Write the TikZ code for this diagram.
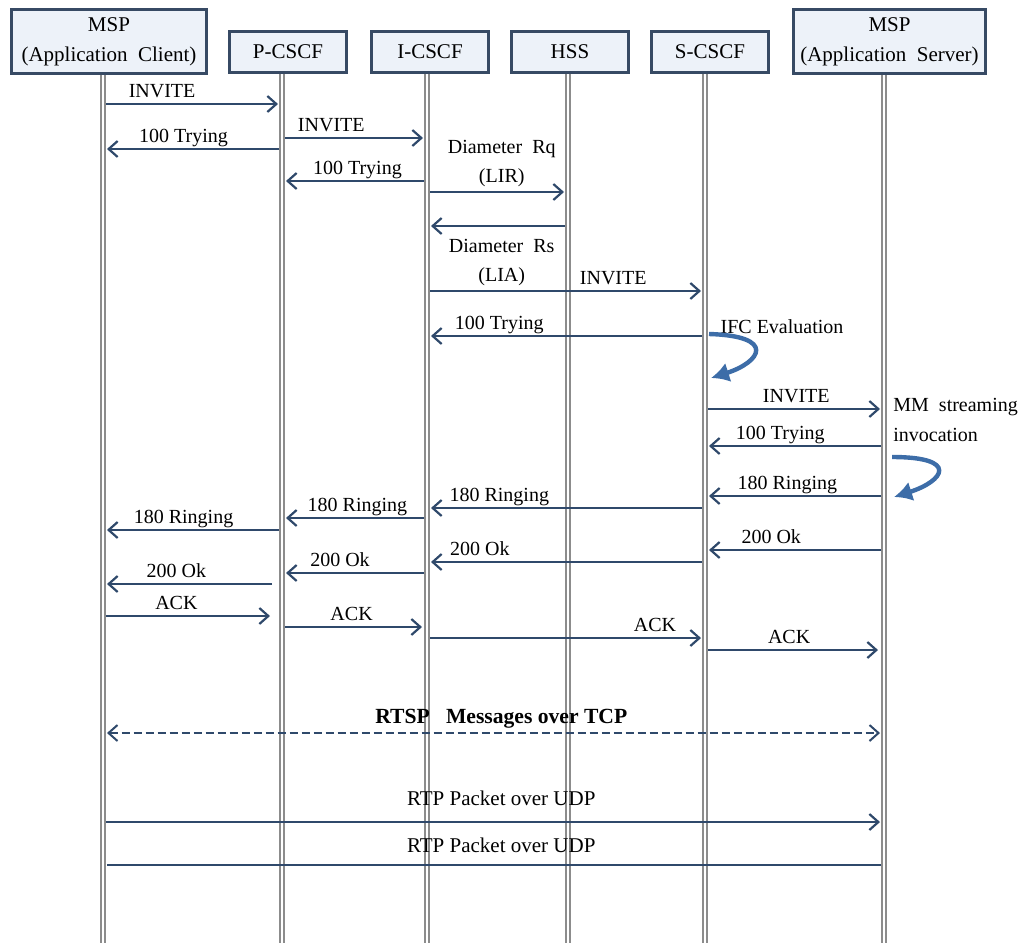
\documentclass[tikz,border=0pt]{standalone}
\usepackage{fontspec}
\setmainfont{Liberation Serif}
\usetikzlibrary{arrows.meta,positioning,calc}
\pgfdeclarelayer{background}
\pgfsetlayers{background,main}
\definecolor{boxline}{RGB}{55,74,100}
\definecolor{boxfill}{RGB}{237,242,249}
\definecolor{msgcol}{RGB}{47,73,107}
\definecolor{loopcol}{RGB}{61,109,168}
\definecolor{lifecol}{RGB}{140,140,140}
\tikzset{
  entity/.style   = {draw=boxline, line width=1.7pt, fill=boxfill, rectangle,
                     minimum width=58.4pt, minimum height=20.4pt, align=center,
                     inner sep=1pt, font=\fontsize{10.5}{15}\selectfont},
  lifeline/.style = {draw=lifecol, line width=0.75pt, double=white,
                     double distance=1.4pt},
  wire/.style     = {draw=msgcol, line width=1.1pt, shorten <=1.5pt, shorten >=2pt},
  msg/.style      = {wire, -{Straight Barb[length=4.5pt,width=8pt]}},
  bimsg/.style    = {wire, line width=1pt, dash pattern=on 4pt off 2pt, shorten <=2pt,
                     {Straight Barb[length=4.5pt,width=8pt]}-{Straight Barb[length=4.5pt,width=8pt]}},
  lbl/.style      = {above=0.5pt, inner sep=0pt, text depth=2pt,
                     font=\fontsize{10}{14.5}\selectfont},
  note/.style     = {inner sep=0pt, align=left, font=\fontsize{10}{15}\selectfont},
  selfloop/.style = {draw=loopcol, line width=2.2pt, -{Latex[length=9pt,width=10pt]}},
}
\begin{document}
\begin{tikzpicture}[x=0.5pt,y=-0.5pt]
\useasboundingbox (0,0) rectangle (1026,943);
\node[entity,minimum width=97.4pt,minimum height=31.9pt] (ac) at (109,41.5) {MSP\\(Application\ \ Client)};
\node[entity] (pc)  at (288,52) {P-CSCF};
\node[entity] (ic)  at (430,52) {I-CSCF};
\node[entity] (hss) at (570,52) {HSS};
\node[entity] (sc)  at (710,52) {S-CSCF};
\node[entity,minimum width=95.9pt,minimum height=31.9pt] (as) at (889.5,41.5) {MSP\\(Application\ \ Server)};
\foreach \n/\x in {ac/103,pc/282,ic/427,hss/568,sc/705,as/884}
  \coordinate (\n-l) at (\x,0);
\begin{pgfonlayer}{background}
\foreach \n in {ac,pc,ic,hss,sc,as}
  \draw[lifeline] (\n-l |- \n.south) -- (\n-l |- 0,943);
\end{pgfonlayer}
% session set-up
\draw[msg] (ac-l |- 0,104) -- node[lbl,pos=.33]{INVITE} (pc-l |- 0,104);
\draw[msg] (pc-l |- 0,138) -- node[lbl,pos=.34]{INVITE} (ic-l |- 0,138);
\draw[msg] (pc-l |- 0,149) -- node[lbl,pos=.55]{100 Trying} (ac-l |- 0,149);
\draw[msg] (ic-l |- 0,181) -- node[lbl,pos=.48]{100 Trying} (pc-l |- 0,181);
\draw[msg] (ic-l |- 0,192) -- node[lbl,align=center,above=2pt,pos=.53]{Diameter\ \ Rq\\(LIR)} (hss-l |- 0,192);
\draw[msg] (hss-l |- 0,226) -- node[lbl,align=center,below=6pt,pos=.47]{Diameter\ \ Rs\\(LIA)} (ic-l |- 0,226);
\draw[msg] (ic-l |- 0,291) -- node[lbl,pos=.67]{INVITE} (sc-l |- 0,291);
\draw[msg] (sc-l |- 0,336) -- node[lbl,pos=.74]{100 Trying} (ic-l |- 0,336);
\node[note] (ifc) at (782,327) {IFC Evaluation};
\draw[selfloop] ($(sc-l |- 0,334)+(4,0)$) .. controls +(68,2) and +(50,-16) .. ($(sc-l |- 0,378)+(6,0)$);
\draw[msg] (sc-l |- 0,409) -- node[lbl,pos=.51]{INVITE} (as-l |- 0,409);
\node[note,anchor=north west] (mm) at (893,398) {MM\ \ streaming\\invocation};
\draw[msg] (as-l |- 0,446) -- node[lbl,pos=.58]{100 Trying} (sc-l |- 0,446);
\draw[selfloop] ($(as-l |- 0,457)+(8,0)$) .. controls +(68,0) and +(50,-16) .. ($(as-l |- 0,497)+(10,0)$);
% ringing and answer
\draw[msg] (as-l |- 0,496) -- node[lbl,pos=.54]{180 Ringing} (sc-l |- 0,496);
\draw[msg] (sc-l |- 0,508) -- node[lbl,pos=.74]{180 Ringing} (ic-l |- 0,508);
\draw[msg] (ic-l |- 0,518) -- node[lbl,pos=.48]{180 Ringing} (pc-l |- 0,518);
\draw[msg] (pc-l |- 0,530) -- node[lbl,pos=.55]{180 Ringing} (ac-l |- 0,530);
\draw[msg] (as-l |- 0,550) -- node[lbl,pos=.63]{200 Ok} (sc-l |- 0,550);
\draw[msg] (sc-l |- 0,562) -- node[lbl,pos=.81]{200 Ok} (ic-l |- 0,562);
\draw[msg] (ic-l |- 0,573) -- node[lbl,pos=.60]{200 Ok} (pc-l |- 0,573);
\draw[msg,shorten <=5pt] (pc-l |- 0,584) -- node[lbl,pos=.59]{200 Ok} (ac-l |- 0,584);
\draw[msg,shorten >=6pt] (ac-l |- 0,616) -- node[lbl,pos=.41]{ACK} (pc-l |- 0,616);
\draw[msg,shorten >=2.5pt] (pc-l |- 0,627) -- node[lbl,pos=.48]{ACK} (ic-l |- 0,627);
\draw[msg] (ic-l |- 0,638) -- node[lbl,pos=.82]{ACK} (sc-l |- 0,638);
\draw[msg,shorten >=3pt] (sc-l |- 0,650) -- node[lbl,pos=.47]{ACK} (as-l |- 0,650);
% media
\draw[bimsg] (ac-l |- 0,733) -- node[lbl,above=2.4pt,pos=.51,font=\bfseries\fontsize{10.8}{13}\selectfont]{RTSP\ \ \ Messages over TCP} (as-l |- 0,733);
\draw[msg] (ac-l |- 0,822) -- node[lbl,above=5.5pt,pos=.51,font=\fontsize{10.5}{13}\selectfont]{RTP Packet over UDP} (as-l |- 0,822);
\draw[wire] (as-l |- 0,865) -- node[lbl,above=3.5pt,pos=.49,font=\fontsize{10.5}{13}\selectfont]{RTP Packet over UDP} (ac-l |- 0,865);
\end{tikzpicture}
\end{document}
